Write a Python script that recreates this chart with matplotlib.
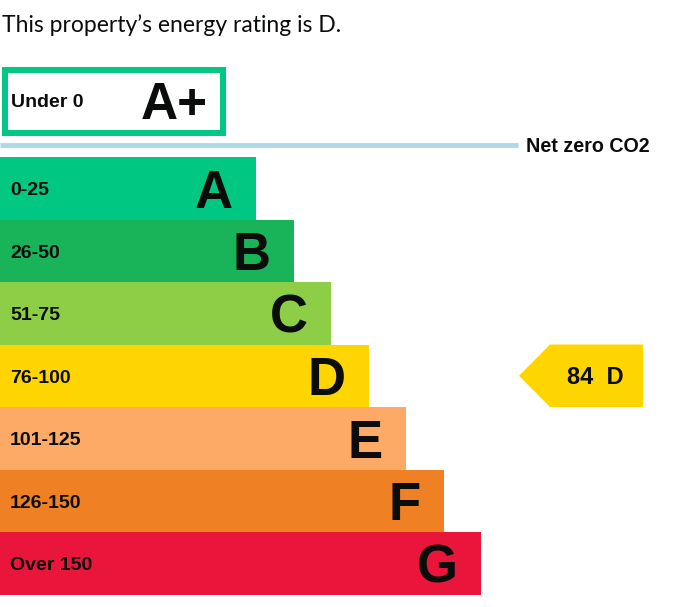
import matplotlib

matplotlib.use("Agg")
import matplotlib.pyplot as plt
from matplotlib.patches import Polygon, Rectangle

# EPC rating bands (top to bottom)
BANDS = ["A", "B", "C", "D", "E", "F", "G"]
RANGES = ["0-25", "26-50", "51-75", "76-100", "101-125", "126-150", "Over 150"]
COLORS = ["#00c781", "#19b459", "#8dce46", "#ffd500", "#fcaa65", "#ef8023", "#e9153b"]
NET_ZERO_BAND = "A+"
NET_ZERO_RANGE = "Under 0"
CURRENT_SCORE = 84
CURRENT_BAND = "D"

W, H = 682, 607
BOLD = "Liberation Sans"
ROW_TOP, ROW_H = 157.0, 62.5
BAR_MIN, BAR_STEP = 256.0, 37.5

fig = plt.figure(figsize=(W / 100, H / 100), dpi=100)
ax = fig.add_axes([0, 0, 1, 1])
ax.set_xlim(0, W)
ax.set_ylim(H, 0)
ax.axis("off")

ax.text(2, 32, "This property\u2019s energy rating is D.", fontsize=16.5,
        family="Lato", va="baseline", ha="left", color="#0b0c0c")

# A+ box
ax.add_patch(Rectangle((5, 70), 218, 63, fill=False, edgecolor=COLORS[0], lw=4.3))
ax.text(11, 107, NET_ZERO_RANGE, fontsize=14, family=BOLD, weight="bold",
        va="baseline", ha="left", color="#0b0c0c")
ax.text(208, 119, NET_ZERO_BAND, fontsize=37, family=BOLD, weight="bold",
        va="baseline", ha="right", color="#0b0c0c")

# net zero line
ax.plot([0, 518], [145, 145], color="#add8e6", lw=3.5, solid_capstyle="butt")
ax.text(526, 152, "Net zero CO2", fontsize=14.2, family=BOLD, weight="bold",
        va="baseline", ha="left", color="#0b0c0c")

centers = [ROW_TOP + ROW_H * (i + 0.5) for i in range(len(BANDS))]
lengths = [BAR_MIN + BAR_STEP * i for i in range(len(BANDS))]
ax.barh(centers, lengths, height=ROW_H, left=0, color=COLORS, edgecolor="none")

for yc, ln, band, rng in zip(centers, lengths, BANDS, RANGES):
    ax.text(10, yc + 7, rng, fontsize=14, family=BOLD, weight="bold",
            va="baseline", ha="left", color="#0b0c0c")
    ax.text(ln - 23, yc + 19.5, band, fontsize=38, family=BOLD, weight="bold",
            va="baseline", ha="right", color="#0b0c0c")

# current rating pointer
ci = BANDS.index(CURRENT_BAND)
yc = centers[ci]
top, bot = yc - ROW_H / 2, yc + ROW_H / 2
ax.add_patch(Polygon([(519, yc), (550, top), (643, top), (643, bot), (550, bot)],
                     closed=True, facecolor=COLORS[ci], edgecolor="none"))
ax.text(567, yc + 8, f"{CURRENT_SCORE}  {CURRENT_BAND}", fontsize=17, family=BOLD,
        weight="bold", va="baseline", ha="left", color="#0b0c0c")

fig.savefig("out.png", dpi=100)
